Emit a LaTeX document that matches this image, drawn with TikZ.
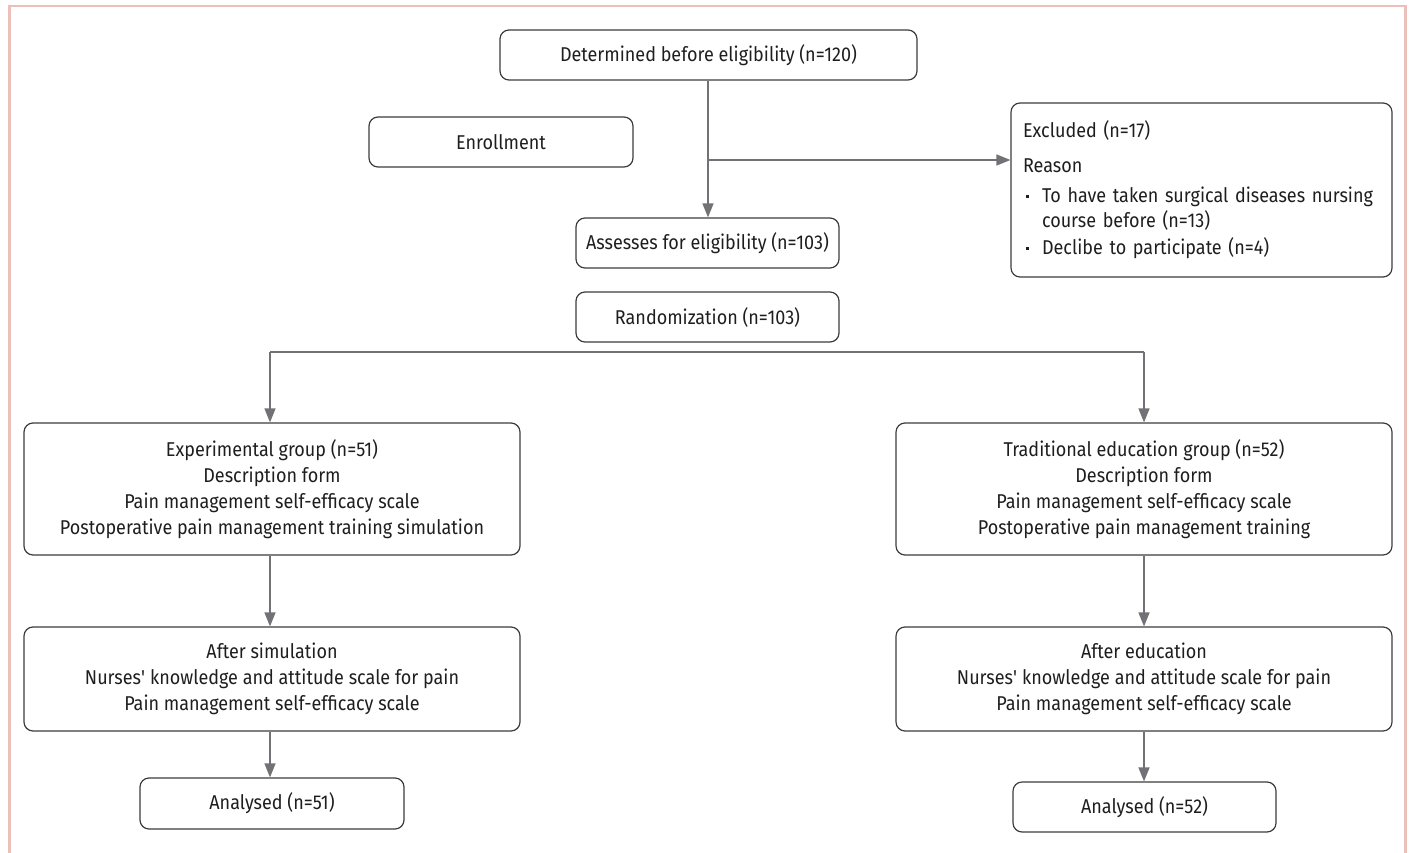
\documentclass[tikz,border=0pt]{standalone}
\usepackage{fontspec}
\setmainfont{Fira Sans}[FakeStretch=0.9]
\usetikzlibrary{arrows.meta}
\definecolor{framec}{HTML}{EBC0B8}
\definecolor{boxline}{HTML}{3C3C3C}
\definecolor{arrowc}{HTML}{727276}
\definecolor{txt}{HTML}{1E1E1E}
\newcommand{\bul}{\hspace*{2.5pt}\makebox[16.5pt][l]{\rule[5pt]{3pt}{3pt}}}
\begin{document}
\begin{tikzpicture}[x=1pt,y=-1pt,
  box/.style={draw=boxline, line width=1.2pt, rounded corners=9pt, inner sep=0pt,
    align=center, text=txt, font=\fontsize{20}{26}\selectfont},
  conn/.style={draw=arrowc, line width=1.4pt},
  arr/.style={conn, -{Triangle[length=14pt,width=11pt]}},
]
\useasboundingbox (0,0) rectangle (1410,853);
% frame
\draw[framec, line width=2.5pt] (9.5,853) -- (9.5,6) -- (1405.5,6) -- (1405.5,853);

% nodes
\node[box, minimum width=417pt, minimum height=50pt] (det) at (708.5,55) {Determined before eligibility (n=120)};
\node[box, minimum width=264pt, minimum height=50pt] (enr) at (501,142) {Enrollment};
\node[box, minimum width=381pt, minimum height=174pt, text width=357pt, align=left,
  font=\fontsize{20}{25}\selectfont] (exc) at (1201.5,190)
  {Excluded (n=17)\\[10pt]Reason\\[5pt]\bul To have taken surgical diseases nursing\\
   \hspace*{19pt}course before (n=13)\\[2pt]\bul Declibe to participate (n=4)};
\node[box, minimum width=263pt, minimum height=50pt] (ass) at (707.5,243) {Assesses for eligibility (n=103)};
\node[box, minimum width=263pt, minimum height=50pt] (rnd) at (707.5,317) {Randomization (n=103)};
\node[box, minimum width=496pt, minimum height=132pt] (exp) at (272,489)
  {Experimental group (n=51)\\Description form\\Pain management self-efficacy scale\\Postoperative pain management training simulation};
\node[box, minimum width=496pt, minimum height=132pt] (trd) at (1144,489)
  {Traditional education group (n=52)\\Description form\\Pain management self-efficacy scale\\Postoperative pain management training};
\node[box, minimum width=496pt, minimum height=104pt] (aft1) at (272,679)
  {After simulation\\Nurses\textquotesingle\ knowledge and attitude scale for pain\\Pain management self-efficacy scale};
\node[box, minimum width=496pt, minimum height=104pt] (aft2) at (1144,679)
  {After education\\Nurses\textquotesingle\ knowledge and attitude scale for pain\\Pain management self-efficacy scale};
\node[box, minimum width=264pt, minimum height=51pt] (an1) at (272,803.5) {Analysed (n=51)};
\node[box, minimum width=263pt, minimum height=50pt] (an2) at (1144.5,807) {Analysed (n=52)};

% connectors
\coordinate (br) at (708,160);
\coordinate (sl) at (270,352);
\coordinate (sr) at (1144,352);
\draw[arr] (det.south-|br) -- (ass.north-|br);
\draw[arr] (br) -- (exc.west|-br);
\draw[conn] (sl) -- (sr);
\draw[arr] (sl) -- (sl|-exp.north);
\draw[arr] (sr) -- (sr|-trd.north);
\draw[arr] (exp.south-|sl) -- (aft1.north-|sl);
\draw[arr] (trd.south-|sr) -- (aft2.north-|sr);
\draw[arr] (aft1.south-|sl) -- (an1.north-|sl);
\draw[arr] (aft2.south-|sr) -- (an2.north-|sr);
\end{tikzpicture}
\end{document}
